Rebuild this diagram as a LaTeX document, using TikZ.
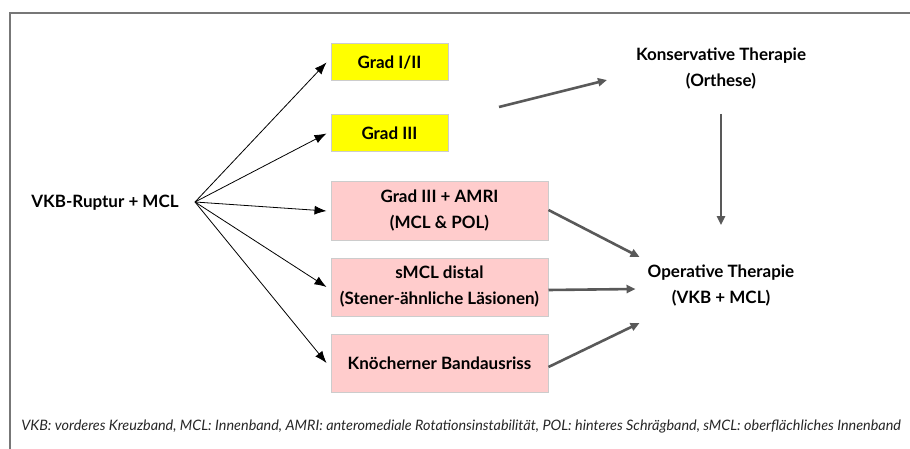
\documentclass[tikz,border=0pt]{standalone}
\usepackage{fontspec}
\setmainfont{Lato}
\usepackage{tikz}
\usetikzlibrary{arrows.meta,calc,positioning}
\definecolor{gradgelb}{HTML}{FFFF00}
\definecolor{oprosa}{HTML}{FFCCCC}
\definecolor{randgrau}{HTML}{CCCCCC}
\definecolor{pfeilgrau}{HTML}{595959}
\definecolor{rahmengrau}{HTML}{777777}
\tikzset{
        label/.style = {font=\fontsize{17}{26}\selectfont\bfseries, align=center, inner sep=2pt},
        yellowbox/.style = {label, draw=randgrau, fill=gradgelb, line width=1pt,
            minimum height=37pt,
            minimum width=117pt},
        pinkbox/.style = {label, draw=randgrau, fill=oprosa, line width=1pt,
            minimum height=58pt,
            minimum width=217pt},
        fan/.style = {draw, line width=0.8pt, -{Latex[length=12pt,width=9pt]}},
        thick arrow/.style = {draw=pfeilgrau, line width=2.6pt, -{Triangle[length=9pt,width=8pt]}},
    }

\begin{document}
\begin{tikzpicture}[x=1pt,y=-1pt]
    \useasboundingbox (0,0) rectangle (910,449);
    \draw[rahmengrau, line width=1.5pt] (910,13) -- (10,13) -- (10,449);

    \node[label] (src) at (105,203) {VKB-Ruptur + MCL};
    \coordinate (fork) at (195,202);

    \node[yellowbox] (g12) at (389.5,62.5) {Grad I/II};
    \node[yellowbox, below=33pt of g12] (g3) {Grad III};
    \node[pinkbox] (amri) at (439.5,211) {Grad III + AMRI\\(MCL \& POL)};
    \node[pinkbox, below=17pt of amri] (smcl) {sMCL distal\\(Stener-ähnliche Läsionen)};
    \node[pinkbox, below=17pt of smcl] (bone) {Knöcherner Bandausriss};

    \node[label] (kons) at (721,69) {Konservative Therapie\\(Orthese)};
    \node[label] (op) at (721,286) {Operative Therapie\\(VKB + MCL)};

    \foreach \target in {g12,g3,amri,smcl,bone}
        \path[fan] (fork) -- ([xshift=-4pt]\target.west);

    \coordinate (yellowout) at (499,107);
    \coordinate (konsin) at (607,80);
    \path[thick arrow] (yellowout) -- (konsin);
    \path[thick arrow, shorten <=22pt, shorten >=38pt] (kons.south) -- (op.north);
    \path[thick arrow] (amri.east) ++(0,-1) -- ($(op.west)+(-6,-29)$);
    \path[thick arrow] (smcl.east) ++(0,3) -- ($(op.west)+(-10,3)$);
    \path[thick arrow] (bone.east) ++(0,4) -- ($(op.west)+(-6,37)$);

    \node[font=\fontsize{14.4}{17}\selectfont\itshape, text=black!85] (legend) at (461,427)
        {VKB: vorderes Kreuzband, MCL: Innenband, AMRI: anteromediale Rotationsinstabilität, POL: hinteres Schrägband, sMCL: oberflächliches Innenband};
\end{tikzpicture}
\end{document}
